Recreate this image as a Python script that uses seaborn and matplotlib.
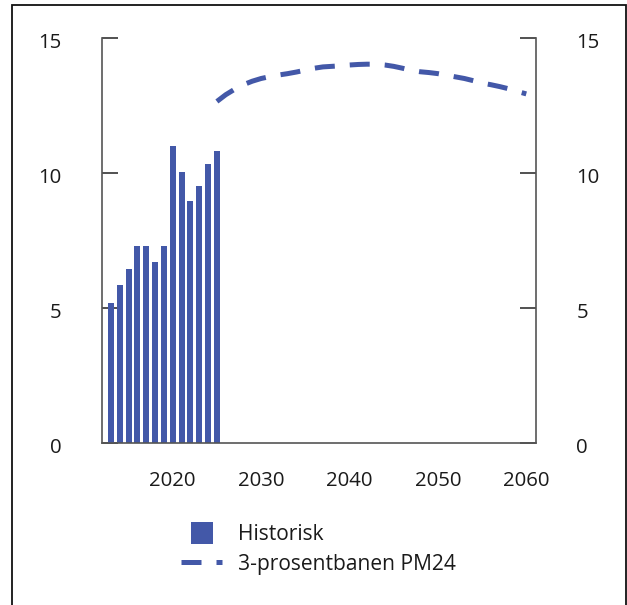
import matplotlib
matplotlib.use("Agg")
import matplotlib.pyplot as plt
import matplotlib.transforms as mtransforms
import seaborn as sns
import pandas as pd
from matplotlib.lines import Line2D
from matplotlib.patches import Rectangle

hist_years = list(range(2013, 2026))
hist_values = [5.17, 5.84, 6.43, 7.31, 7.31, 6.72, 7.31, 11.01, 10.05, 8.98, 9.53, 10.34, 10.82]

proj_years = list(range(2025, 2061))
proj_values = [12.65, 12.9, 13.1, 13.27, 13.4, 13.5, 13.57, 13.63, 13.68, 13.74,
               13.81, 13.88, 13.93, 13.95, 13.97, 14.0, 14.02, 14.03, 14.03, 14.0,
               13.95, 13.88, 13.8, 13.75, 13.72, 13.68, 13.62, 13.56, 13.5, 13.42,
               13.33, 13.27, 13.2, 13.12, 13.02, 12.93]

y_ticks = [0, 5, 10, 15]
x_ticks = [2020, 2030, 2040, 2050, 2060]
labels = ["Historisk", "3-prosentbanen PM24"]

color = "#4358A8"

sns.set_theme(style="white")
plt.rcParams['font.family'] = ['Open Sans', 'DejaVu Sans']

fig = plt.figure(figsize=(6.27, 6.05), dpi=100)
ax = fig.add_axes([102/627, 1 - 443/605, (536-102)/627, (443-38)/605])

df_h = pd.DataFrame({"year": hist_years, "value": hist_values})
df_p = pd.DataFrame({"year": proj_years, "value": proj_values})

sns.barplot(data=df_h, x="year", y="value", native_scale=True, width=0.68,
            color=color, saturation=1, ax=ax, linewidth=0)
sns.lineplot(data=df_p, x="year", y="value", ax=ax, color=color, lw=3.6,
             dashes=False)
ax.lines[-1].set_dashes((4, 3))

ax.set_xlim(2012.0, 2061.1)
ax.set_ylim(0, 15)
ax.set_xticks(x_ticks)
ax.set_yticks(y_ticks)
ax.set_xlabel("")
ax.set_ylabel("")

ax.spines['top'].set_visible(False)
for s in ['left', 'right', 'bottom']:
    ax.spines[s].set_color('#555555')
    ax.spines[s].set_linewidth(1.2)

ax.tick_params(axis='y', which='both', direction='in', length=11.5, width=1.2,
               color='#333333', left=True, right=True, labelleft=True,
               labelright=True, pad=29, labelsize=14.7, labelcolor='#1a1a1a')
ax.tick_params(axis='x', length=0, pad=20, labelsize=14.7, labelcolor='#1a1a1a')

offset = mtransforms.ScaledTranslation(0, -2.2/100, fig.dpi_scale_trans)
for t in ax.yaxis.get_major_ticks():
    t.label1.set_transform(t.label1.get_transform() + offset)
    t.label2.set_transform(t.label2.get_transform() + offset)

handles = [
    Line2D([], [], marker='s', markersize=15.8, linestyle='none',
           color=color, markeredgewidth=0),
    Line2D([], [], color=color, lw=3.6, dashes=(4, 3)),
]
fig.legend(handles, labels, loc='upper center', bbox_to_anchor=(318/627, 1 - 505/605),
           frameon=False, fontsize=15.1, handlelength=2.0, handletextpad=0.72,
           labelspacing=0.42, labelcolor='#1a1a1a')

fig.patches.append(Rectangle((12/627, -0.02), (625.5-12)/627, 1.02 - 4.5/605,
                             transform=fig.transFigure, fill=False,
                             edgecolor='#111111', lw=1.3))

fig.savefig("out.png", dpi=100)
